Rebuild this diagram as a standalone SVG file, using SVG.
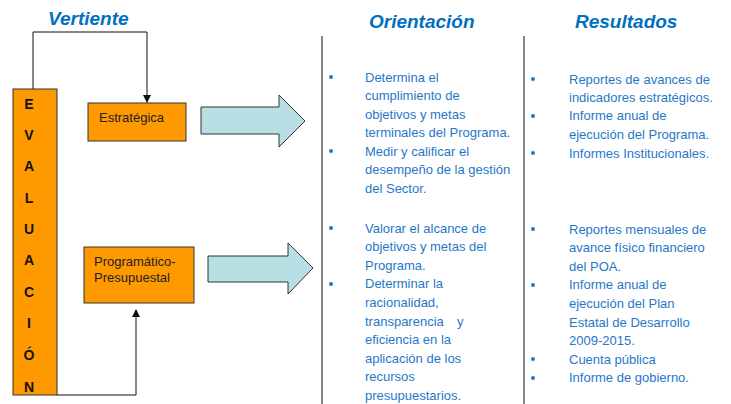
<svg xmlns="http://www.w3.org/2000/svg" width="731" height="404" viewBox="0 0 731 404">
<style>
.hdr{font-family:"Liberation Sans",Arial,sans-serif;font-size:19px;font-weight:bold;font-style:italic;fill:#0070C0}
.body{font-family:"Liberation Sans",Arial,sans-serif;font-size:13px;fill:#1F78C8}
.box{fill:#FF9900;stroke:#333;stroke-width:1}
.lbl{font-family:"Liberation Sans",Arial,sans-serif;font-size:13px;fill:#222}
.ltr{font-family:"Liberation Sans",Arial,sans-serif;font-size:14px;font-weight:bold;fill:#111;text-anchor:middle}
.blk{fill:#B8DFE3;stroke:#333;stroke-width:1}
.con{fill:none;stroke:#111;stroke-width:1}
.sep{stroke:#111;stroke-width:1}
.dot{fill:#1F78C8}
</style>
<defs>
<marker id="ah" markerWidth="8" markerHeight="8" refX="7" refY="4" orient="auto" markerUnits="userSpaceOnUse">
<path d="M0,0 L8,4 L0,8 Z" fill="#111"/>
</marker>
</defs>
<text class="hdr" x="48" y="25">Vertiente</text>
<text class="hdr" x="369" y="28">Orientación</text>
<text class="hdr" x="575" y="28">Resultados</text>
<g id="separators">
<line class="sep" x1="322" y1="36" x2="322" y2="404"/>
<line class="sep" x1="524" y1="36" x2="524" y2="404"/>
</g>
<g id="evaluacion">
<rect class="box" x="13" y="89" width="44" height="306"/>
<text class="ltr" x="29" y="109">E</text>
<text class="ltr" x="29" y="140">V</text>
<text class="ltr" x="29" y="171">A</text>
<text class="ltr" x="29" y="203">L</text>
<text class="ltr" x="29" y="234">U</text>
<text class="ltr" x="29" y="265">A</text>
<text class="ltr" x="29" y="297">C</text>
<text class="ltr" x="29" y="328">I</text>
<text class="ltr" x="29" y="360">Ó</text>
<text class="ltr" x="29" y="392">N</text>
</g>
<g id="estrategica">
<rect class="box" x="88" y="103" width="98" height="38"/>
<text class="lbl" x="99" y="122">Estratégica</text>
</g>
<g id="programatico">
<rect class="box" x="84" y="247" width="110" height="56"/>
<text class="lbl" x="94" y="266">Programático-</text>
<text class="lbl" x="94" y="282">Presupuestal</text>
</g>
<g id="connectors">
<path class="con" d="M33,89 V32 H147 V102" marker-end="url(#ah)"/>
<path class="con" d="M57,395 H136 V310" marker-end="url(#ah)"/>
<polygon class="blk" points="201,107 279,107 279,95 305,121 279,147 279,134 201,134"/>
<polygon class="blk" points="208,256 288,256 288,243 313,268 288,294 288,282 208,282"/>
</g>
<g id="orientacion-1">
<circle class="dot" cx="331" cy="77" r="2"/>
<circle class="dot" cx="331" cy="151" r="2"/>
<text class="body"><tspan x="365" y="81.5">Determina el</tspan><tspan x="365" y="100">cumplimiento de</tspan><tspan x="365" y="118.5">objetivos y metas</tspan><tspan x="365" y="137">terminales del Programa.</tspan><tspan x="365" y="155.5">Medir y calificar el</tspan><tspan x="365" y="174">desempeño de la gestión</tspan><tspan x="365" y="192.5">del Sector.</tspan></text>
</g>
<g id="orientacion-2">
<circle class="dot" cx="331" cy="228" r="2"/>
<circle class="dot" cx="331" cy="284" r="2"/>
<text class="body"><tspan x="365" y="232.5">Valorar el alcance de</tspan><tspan x="365" y="251">objetivos y metas del</tspan><tspan x="365" y="269.7">Programa.</tspan><tspan x="365" y="288.3">Determinar la</tspan><tspan x="365" y="307">racionalidad,</tspan><tspan x="365" y="325.6">transparencia</tspan><tspan x="457" y="325.6">y</tspan><tspan x="365" y="344.2">eficiencia en la</tspan><tspan x="365" y="362.8">aplicación de los</tspan><tspan x="365" y="381.4">recursos</tspan><tspan x="365" y="400">presupuestarios.</tspan></text>
</g>
<g id="resultados-1">
<circle class="dot" cx="533" cy="79" r="2"/>
<circle class="dot" cx="533" cy="116" r="2"/>
<circle class="dot" cx="533" cy="153" r="2"/>
<text class="body"><tspan x="569" y="83.5">Reportes de avances de</tspan><tspan x="569" y="101.5">indicadores estratégicos.</tspan><tspan x="569" y="120">Informe anual de</tspan><tspan x="569" y="139">ejecución del Programa.</tspan><tspan x="569" y="157.5">Informes Institucionales.</tspan></text>
</g>
<g id="resultados-2">
<circle class="dot" cx="533" cy="229" r="2"/>
<circle class="dot" cx="533" cy="285" r="2"/>
<circle class="dot" cx="533" cy="359" r="2"/>
<circle class="dot" cx="533" cy="378" r="2"/>
<text class="body"><tspan x="569" y="233.5">Reportes mensuales de</tspan><tspan x="569" y="252">avance físico financiero</tspan><tspan x="569" y="270.7">del POA.</tspan><tspan x="569" y="289.3">Informe anual de</tspan><tspan x="569" y="308">ejecución del Plan</tspan><tspan x="569" y="326.5">Estatal de Desarrollo</tspan><tspan x="569" y="345">2009-2015.</tspan><tspan x="569" y="363.7">Cuenta pública</tspan><tspan x="569" y="382.3">Informe de gobierno.</tspan></text>
</g>
</svg>
